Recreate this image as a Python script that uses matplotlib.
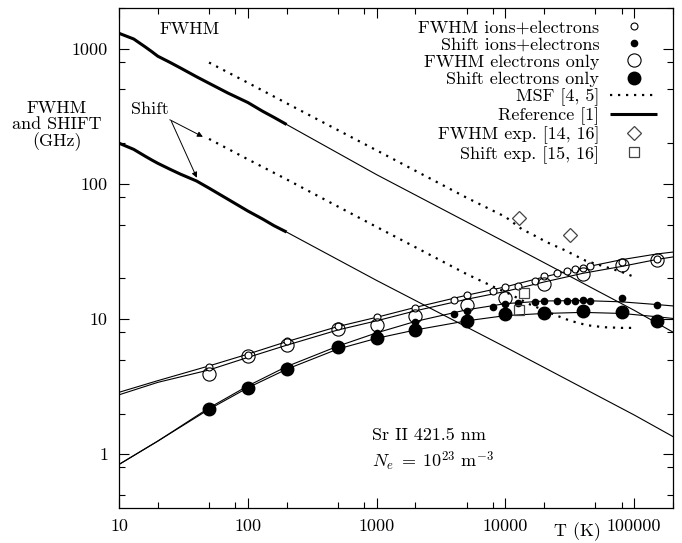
import matplotlib
matplotlib.use("Agg")
import matplotlib.pyplot as plt
from matplotlib.ticker import FixedLocator, FixedFormatter, NullFormatter

plt.rcParams["font.family"] = ["cmr10", "DejaVu Serif"]
plt.rcParams["mathtext.fontset"] = "cm"
plt.rcParams["axes.unicode_minus"] = False
plt.rcParams["axes.formatter.use_mathtext"] = True

# --- reference [1] (thick at low T, thin extrapolation) ---
T_ref_thick = [10, 13, 16, 18, 20, 25, 30, 40, 50, 70, 100, 130, 160, 200]
fwhm_ref_thick = [1300, 1180, 1030, 950, 880, 790, 720, 620, 555, 470, 400, 345, 310, 275]
shift_ref_thick = [200, 180, 160, 150, 142, 128, 118, 105, 93, 77, 63, 55, 49, 44]
T_ref_thin = [200, 1000, 10000, 100000, 200000]
fwhm_ref_thin = [275, 117, 37, 11.6, 8.0]
shift_ref_thin = [44, 19.3, 6.2, 1.95, 1.35]

# --- MSF [4, 5] ---
T_msf_fwhm = [50, 100, 200, 500, 1000, 2000, 5000, 10000, 13500, 16000, 21000,
              28500, 42000, 80000, 100000]
msf_fwhm = [790, 560, 395, 250, 177, 125, 79, 57, 46, 42.5, 37, 32.5, 27, 22.3, 20.5]
T_msf_shift = [50, 100, 200, 500, 1000, 2000, 5000, 7900, 11000, 15000, 20000,
               25000, 32000, 43000, 58000, 80000, 100000]
msf_shift = [215, 152, 108, 68, 48, 34, 21.5, 17.5, 15.2, 13, 11.6, 10.6, 9.7,
             9.0, 8.7, 8.6, 8.6]

# --- fitted curves through the computed points ---
T_curve = [10, 20, 50, 100, 200, 500, 1000, 2000, 5000, 10000, 20000, 40000,
           80000, 150000, 200000]
fwhm_ie_curve = [2.87, 3.5, 4.5, 5.5, 6.8, 8.8, 10.3, 12.2, 15.0, 17.3, 20.5, 24.0,
                 27.5, 30.3, 31.3]
fwhm_e_curve = [2.75, 3.4, 4.2, 5.2, 6.4, 8.3, 9.7, 11.5, 14.0, 16.0, 18.8, 21.8,
                24.5, 27.6, 28.8]
shift_ie_curve = [0.84, 1.25, 2.2, 3.2, 4.45, 6.3, 7.9, 9.6, 11.7, 13.0, 13.6, 13.7,
                  13.4, 12.8, 12.5]
shift_e_curve = [0.84, 1.25, 2.15, 3.1, 4.25, 6.0, 7.2, 8.3, 9.7, 10.6, 11.0, 11.2,
                 11.0, 10.4, 10.1]

# --- computed points ---
T_ie = [50, 100, 200, 500, 1000, 2000, 4000, 5000, 8000, 10000, 12500, 17000,
        20000, 25000, 30000, 35000, 40000, 45000, 80000, 150000]
fwhm_ie = [4.4, 5.4, 6.9, 8.9, 10.4, 12.1, 13.8, 15.0, 16.1, 17.3, 17.7, 19.1,
           20.8, 21.9, 22.7, 23.5, 24.0, 24.7, 26.4, 28.0]
shift_ie = [2.2, 3.2, 4.5, 6.4, 7.9, 9.5, 10.9, 11.5, 12.2, 12.9, 13.1, 13.4,
            13.6, 13.6, 13.6, 13.6, 13.8, 13.6, 14.3, 12.7]
T_e = [50, 100, 200, 500, 1000, 2000, 5000, 10000, 20000, 40000, 80000, 150000]
fwhm_e = [3.9, 5.3, 6.4, 8.5, 9.0, 10.5, 12.8, 14.4, 18.2, 21.7, 25.1, 27.5]
shift_e = [2.15, 3.1, 4.25, 6.2, 7.3, 8.3, 9.7, 10.9, 11.1, 11.5, 11.3, 9.7]

# --- experiments ---
T_exp_fwhm = [12800, 31500]
exp_fwhm = [56, 41.9]
T_exp_shift = [14000, 12800]
exp_shift = [15.6, 11.7]

x_major = [10, 100, 1000, 10000, 100000]
x_major_labels = ["10", "100", "1000", "10000", "100000"]
y_major = [1, 10, 100, 1000]
y_major_labels = ["1", "10", "100", "1000"]

W, H = 682, 543
fig = plt.figure(figsize=(W / 100, H / 100), dpi=100)
ax = fig.add_axes([119 / W, 1 - 508 / H, (673 - 119) / W, (508 - 8) / H])
ax.set_xscale("log")
ax.set_yscale("log")
ax.set_xlim(10, 2.0e5)
ax.set_ylim(0.4, 2000)

thin = dict(color="black", lw=0.8)
thick = dict(color="black", lw=2.2, solid_capstyle="butt")
dotted = dict(color="black", lw=1.6, linestyle=(0, (1, 2.6)))

ax.plot(T_ref_thick, fwhm_ref_thick, **thick)
ax.plot(T_ref_thick, shift_ref_thick, **thick)
ax.plot(T_ref_thin, fwhm_ref_thin, **thin)
ax.plot(T_ref_thin, shift_ref_thin, **thin)

ax.plot(T_msf_fwhm, msf_fwhm, **dotted)
ax.plot(T_msf_shift, msf_shift, **dotted)

for c in (fwhm_ie_curve, fwhm_e_curve, shift_ie_curve, shift_e_curve):
    ax.plot(T_curve, c, **thin)

h1, = ax.plot(T_ie, fwhm_ie, "o", ms=5, mfc="white", mec="black", mew=0.8, ls="none")
h2, = ax.plot(T_ie, shift_ie, "o", ms=4.5, mfc="black", mec="black", ls="none")
h3, = ax.plot(T_e, fwhm_e, "o", ms=9.5, mfc="none", mec="black", mew=0.8, ls="none")
h4, = ax.plot(T_e, shift_e, "o", ms=9, mfc="black", mec="black", ls="none")
h7, = ax.plot(T_exp_fwhm, exp_fwhm, "D", ms=6.8, mfc="white", mec="#444444", mew=0.9, ls="none")
h8, = ax.plot(T_exp_shift, exp_shift, "s", ms=7.5, mfc="none", mec="#444444", mew=0.9, ls="none")

h5 = plt.Line2D([], [], **dotted)
h6 = plt.Line2D([], [], **thick)

labels = ["FWHM ions+electrons", "Shift ions+electrons", "FWHM electrons only",
          "Shift electrons only", "MSF [4, 5]", "Reference [1]",
          "FWHM exp. [14, 16]", "Shift exp. [15, 16]"]
ax.legend([h1, h2, h3, h4, h5, h6, h7, h8], labels, markerfirst=False,
          frameon=False, fontsize=13, loc="upper right",
          bbox_to_anchor=((657 - 119) / 554, 1 - (20 - 8) / 500),
          borderpad=0, borderaxespad=0, handlelength=2.6, handletextpad=0.6,
          labelspacing=0.08)

# ticks
ax.xaxis.set_major_locator(FixedLocator(x_major))
ax.xaxis.set_major_formatter(FixedFormatter(x_major_labels))
ax.xaxis.set_minor_locator(FixedLocator([m * 10 ** k for k in range(1, 6) for m in (2, 5, 8)]))
ax.xaxis.set_minor_formatter(NullFormatter())
ax.yaxis.set_major_locator(FixedLocator(y_major))
ax.yaxis.set_major_formatter(FixedFormatter(y_major_labels))
ax.yaxis.set_minor_locator(FixedLocator([m * 10 ** k for k in range(-1, 4) for m in (2, 5, 8)]))
ax.yaxis.set_minor_formatter(NullFormatter())
ax.tick_params(which="both", direction="in", top=True, right=True, labelsize=13, width=0.8)
ax.tick_params(which="major", length=7)
ax.tick_params(which="minor", length=4.5)
ax.tick_params(axis="x", pad=8)
ax.tick_params(axis="y", pad=8)
for s in ax.spines.values():
    s.set_linewidth(0.9)

# annotations
ax.text(35.5, 1380, "FWHM", fontsize=13, ha="center", va="center")
ax.text(17.4, 353, "Shift", fontsize=13, ha="center", va="center")
arrow = dict(arrowstyle="-|>", lw=0.7, color="black", mutation_scale=8, shrinkA=0, shrinkB=0)
ax.annotate("", xy=(44.8, 223), xytext=(24.8, 298), arrowprops=arrow)
ax.annotate("", xy=(40.2, 111), xytext=(25.5, 290), arrowprops=arrow)

ax.text((372 - 119) / 554, 1 - (435 - 8) / 500, "Sr II 421.5 nm", fontsize=13,
        transform=ax.transAxes, ha="left", va="center")
ax.text((372 - 119) / 554, 1 - (461 - 8) / 500, r"$N_e\;=\;10^{23}\ \mathrm{m}^{-3}$",
        fontsize=13, transform=ax.transAxes, ha="left", va="center")

fig.text(57 / W, 1 - 126 / H, "FWHM\nand SHIFT\n(GHz)", fontsize=13,
         ha="center", va="center", multialignment="center", linespacing=1.05)
fig.text(577 / W, 1 - 532 / H, "T (K)", fontsize=13, ha="center", va="center")

fig.savefig("out.png", dpi=100)
